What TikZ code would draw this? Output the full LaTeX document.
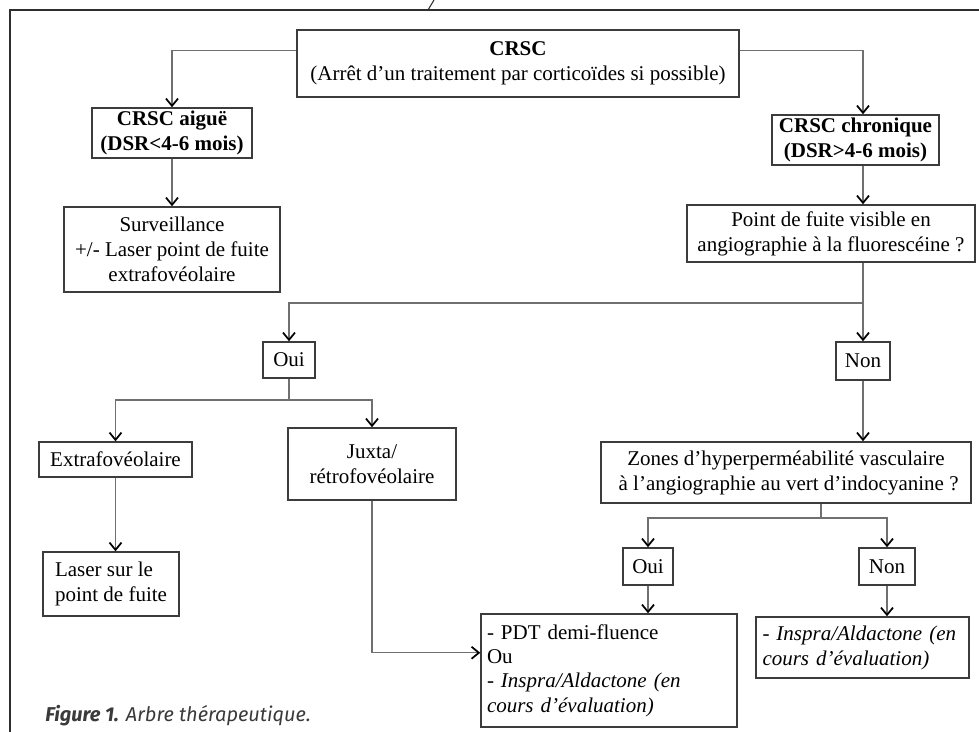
\documentclass[tikz,border=0pt]{standalone}
\usepackage{fontspec}
\setmainfont{Liberation Serif}
\newfontfamily\capfont{Fira Sans}
\usetikzlibrary{arrows.meta,calc}
\definecolor{boxline}{HTML}{3C3C3C}
\definecolor{wireclr}{HTML}{707070}
\definecolor{frameclr}{HTML}{2E2E2E}
\definecolor{captxt}{HTML}{3A3A3A}

\begin{document}
\begin{tikzpicture}[x=0.75pt, y=-0.75pt,
  font=\fontsize{15.75}{18.75}\selectfont,
  >={Straight Barb[length=5.5pt, width=9pt, line width=1.3pt, color=black]},
  box/.style={draw=boxline, line width=1.1pt, align=center, inner sep=0pt},
  boxsize/.style 2 args={minimum width=#1*0.75pt, minimum height=#2*0.75pt},
  lbox/.style={box, align=left, inner xsep=4.5pt},
  wire/.style={draw=wireclr, line width=0.8pt},
  captext/.style={font=\capfont\fontsize{15}{18}\selectfont, text=captxt, anchor=west, inner sep=0pt}]
\useasboundingbox (0,0) rectangle (979,732);
% ---------------- frame
\draw[frameclr, line width=1.4pt] (10,732) -- (10,10) -- (979,10);
\draw[frameclr, line width=0.8pt] (428,10) -- (434,0);
% ---------------- nodes (centres, px)
\node[box, boxsize={442}{67}] (top)   at (518, 63.5) {\textbf{CRSC}\\(Arrêt d’un traitement par corticoïdes si possible)};
\node[box, boxsize={160}{50}] (aigue) at (172, 133)  {\textbf{CRSC aiguë}\\\textbf{(DSR<4-6 mois)}};
\node[box, boxsize={167}{50}] (chron) at (855.5, 140) {\textbf{CRSC chronique}\\\textbf{(DSR>4-6 mois)}};
\node[box, boxsize={216}{85}] (surv)  at (172, 249.5) {Surveillance\\+/- Laser point de fuite\\extrafovéolaire};
\node[box, boxsize={288}{57}] (pdf)   at (831, 233.5) {Point de fuite visible en\\angiographie à la fluorescéine ?};
\node[box, boxsize={52}{36}]  (oui1)  at (289, 360)  {Oui};
\node[box, boxsize={54}{38}]  (non1)  at (863, 361)  {Non};
\node[box, boxsize={153}{35}] (extra) at (115.5, 459.5) {Extrafovéolaire};
\node[box, boxsize={168}{72}] (juxta) at (372, 464)  {Juxta/\\rétrofovéolaire};
\node[lbox, boxsize={136}{64}, inner xsep=0pt] (laser) at (111, 584) {Laser sur le\\point de fuite};
\node[box, boxsize={370}{61}] (zones) at (786, 472.5) {Zones d’hyperperméabilité vasculaire\\\ à l’angiographie au vert d’indocyanine ?};
\node[box, boxsize={50}{37}]  (oui2)  at (648, 566.5) {Oui};
\node[box, boxsize={56}{37}]  (non2)  at (887, 566.5) {Non};
\node[lbox, boxsize={256}{113}, text width=183pt, font=\fontsize{15.75}{18.2}\selectfont] (big) at (609, 670.5)
      {- PDT demi-fluence\\Ou\\- \textit{Inspra/Aldactone (en}\\\textit{cours d’évaluation)}};
\node[lbox, boxsize={213}{61}, text width=150pt, inner xsep=5pt] (right) at (862.5, 647.5)
      {\textit{- Inspra/Aldactone (en}\\\textit{cours d’évaluation)}};
\node[captext] (caption) at (45, 716) {\textbf{\textit{Figure 1.}} \textit{Arbre thérapeutique.}};
% ---------------- junctions
\coordinate (jfuite) at (863, 303);
\coordinate (joui)   at (289, 400);
\coordinate (jzone)  at (821, 518);
% ---------------- edges
\draw[wire, ->] ($(top.north west)!0.31!(top.south west)$) -| (aigue.north);
\draw[wire, ->] ($(top.north east)!0.31!(top.south east)$) -| (chron.north -| jfuite);
\draw[wire, ->] (aigue.south) -- (aigue.south |- surv.north);
\draw[wire, ->] (chron.south -| jfuite) -- (pdf.north -| jfuite);
\draw[wire, ->] (pdf.south -| jfuite) -- (non1.north);
\draw[wire, ->] (jfuite) -| (oui1.north);
\draw[wire] (oui1.south) -- (joui);
\draw[wire, ->] (joui) -| (extra.north);
\draw[wire, ->] (joui) -| (juxta.north);
\draw[wire, ->] (extra.south) -- (extra.south |- laser.north);
\draw[wire, ->] (juxta.south) |- ($(big.north west)!0.345!(big.south west)$);
\draw[wire, ->] (non1.south) -- (non1.south |- zones.north);
\draw[wire] (zones.south -| jzone) -- (jzone);
\draw[wire, ->] (jzone) -| (oui2.north);
\draw[wire, ->] (jzone) -| (non2.north);
\draw[wire, ->] (oui2.south) -- (oui2.south |- big.north);
\draw[wire, ->] (non2.south) -- (non2.south |- right.north);
\end{tikzpicture}
\end{document}
